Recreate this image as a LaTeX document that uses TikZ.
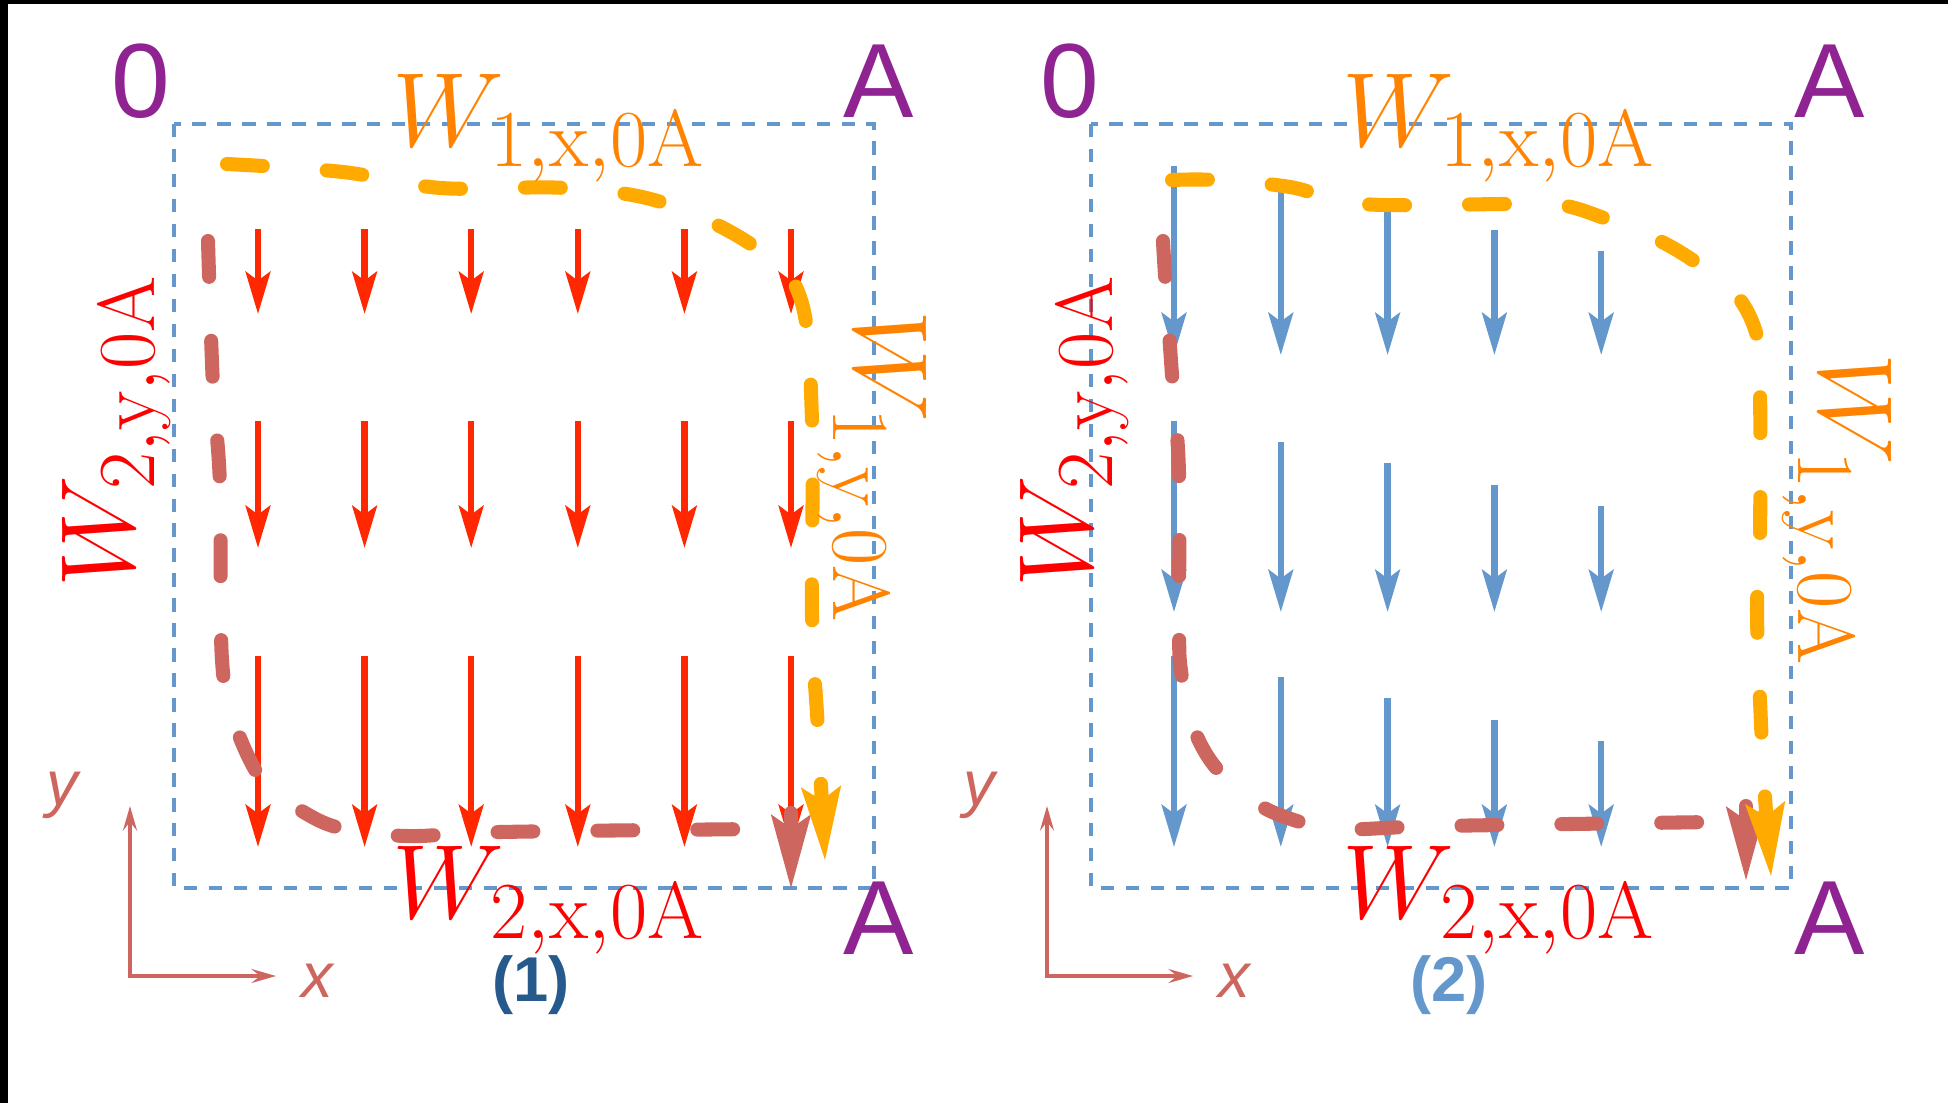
\RequirePackage{fix-cm}
\documentclass[tikz,border=0pt]{standalone}
\usepackage{amsmath}
\usepackage{fontspec}
\setsansfont{Liberation Sans}
\usepackage{xcolor}
\usepackage{tikz}
\usetikzlibrary{arrows.meta}
\DeclareMathSizes{30}{30}{23}{16}
\definecolor{feldrot}{RGB}{255,40,0}
\definecolor{feldblau}{RGB}{100,152,204}
\definecolor{orangeweg}{RGB}{255,170,0}
\definecolor{rotweg}{RGB}{205,102,95}
\definecolor{lila}{RGB}{143,35,145}
\definecolor{textorange}{RGB}{255,130,0}
\definecolor{textrot}{RGB}{255,0,0}
\definecolor{nrdunkel}{RGB}{38,90,140}
\tikzset{
  rahmen/.style={draw=feldblau, line width=1.1pt, dash pattern=on 3.8pt off 3.3pt},
  pfeilrot/.style={feldrot, line width=1.8pt, -{Stealth[length=12pt,width=7pt,inset=2.5pt]}},
  pfeilblau/.style={feldblau, line width=1.8pt, -{Stealth[length=12pt,width=7pt,inset=2.5pt]}},
  kurve/.style={line width=4pt, line cap=round, dash pattern=on 10.2pt off 18.2pt},
  kopf/.style={line width=4pt, line cap=round, -{Stealth[length=21pt,width=11.5pt,inset=4pt,line width=0pt]}},
  ecke/.style={font=\sffamily\fontsize{30}{30}\selectfont, text=lila, inner sep=0pt},
  wtext/.style={font=\fontsize{30}{32}\selectfont, inner sep=0pt, anchor=base west},
  nummer/.style={font=\sffamily\bfseries\fontsize{18}{20}\selectfont, inner sep=0pt},
  achslabel/.style={font=\sffamily\itshape\fontsize{18}{20}\selectfont, text=rotweg, inner sep=0pt},
  achse/.style={rotweg, line width=0.9pt, {Stealth[length=7pt,width=4pt,inset=2.5pt]}-{Stealth[length=7pt,width=4pt,inset=2.5pt]}}
}
% Koordinatenachsen: Praefix, Ursprung x, Ursprung y
\newcommand{\Achsen}[3]{%
  \draw[achse] (#2,#3-170) |- (#2+146,#3);
  \node[achslabel] (#1y) at (#2-68,#3-181) {y};
  \node[achslabel] (#1x) at (#2+187,#3+5) {x};
}

\begin{document}
\begin{tikzpicture}[x=0.01cm,y=-0.01cm]
  \useasboundingbox (0,0) rectangle (1948,1103);
  \fill[black] (0,0) rectangle (1948,4);
  \fill[black] (0,0) rectangle (8,1103);

  % Feld (1): Rahmen und rote Pfeile
  \draw[rahmen] (174,124) rectangle (874,888);
  \foreach \i in {0,...,5} {
    \draw[pfeilrot] (258+106.6*\i,229) -- (258+106.6*\i,314);
    \draw[pfeilrot] (258+106.6*\i,421) -- (258+106.6*\i,548);
    \draw[pfeilrot] (258+106.6*\i,656) -- (258+106.6*\i,847);
  }
  % Weg 2 (links, unten)
  \draw[kurve, rotweg] plot[smooth, tension=0.6] coordinates {(208,241) (213,386) (220,486) (222,660) (236,727) (265,785) (300,810) (340,828) (407,836) (500,832) (760,829)};
  \draw[kopf, rotweg] (791,813) -- (791,888);
  % Weg 1 (oben, rechts)
  \draw[kurve, orangeweg, kopf] plot[smooth, tension=0.6] coordinates {(227,164) (343,172) (441,188) (565,188) (661,202) (752,245) (800,297) (812,420) (812,617) (818,730) (825,860)};

  % Feld (2): Rahmen und blaue Pfeile
  \draw[rahmen] (1091,124) rectangle (1791,888);
  \foreach \i in {0,...,4} {
    \draw[pfeilblau] (1174+106.8*\i,166+21.2*\i) -- (1174+106.8*\i,355);
    \draw[pfeilblau] (1174+106.8*\i,421+21.2*\i) -- (1174+106.8*\i,612);
    \draw[pfeilblau] (1174+106.8*\i,656+21.2*\i) -- (1174+106.8*\i,847);
  }
  \draw[kurve, rotweg] plot[smooth, tension=0.6] coordinates {(1163,241) (1165,275) (1172,375) (1179,473) (1179,624) (1181,671) (1191,721) (1213,764) (1250,799) (1288,818) (1340,829) (1440,826) (1715,822)};
  \draw[kopf, rotweg] (1746,806) -- (1746,880);
  \draw[kurve, orangeweg, kopf] plot[smooth, tension=0.6] coordinates {(1172,180) (1216,180) (1290,187) (1362,204) (1511,204) (1561,205) (1604,218) (1654,238) (1694,261) (1735,293) (1757,336) (1760,386) (1760,536) (1757,610) (1760,700) (1764,782) (1771,876)};

  % Ecken
  \node[ecke] (null1) at (141,81) {0};
  \node[ecke] (aoben1) at (879,81) {A};
  \node[ecke] (aunten1) at (879,918) {A};
  \node[ecke] (null2) at (1070,81) {0};
  \node[ecke] (aoben2) at (1830,81) {A};
  \node[ecke] (aunten2) at (1830,918) {A};

  % Beschriftung der Wege
  \node[wtext, text=textorange] (w1x1) at (392,146) {$W_{\mathrm{1,x,0A}}$};
  \node[wtext, text=textrot] (w2x1) at (392,918) {$W_{\mathrm{2,x,0A}}$};
  \node[wtext, text=textrot, rotate=90] (w2y1) at (134,588) {$W_{\mathrm{2,y,0A}}$};
  \node[wtext, text=textorange, rotate=-90] (w1y1) at (854,310) {$W_{\mathrm{1,y,0A}}$};
  \node[wtext, text=textorange] (w1x2) at (1342,146) {$W_{\mathrm{1,x,0A}}$};
  \node[wtext, text=textrot] (w2x2) at (1342,918) {$W_{\mathrm{2,x,0A}}$};
  \node[wtext, text=textrot, rotate=90] (w2y2) at (1092,588) {$W_{\mathrm{2,y,0A}}$};
  \node[wtext, text=textorange, rotate=-90] (w1y2) at (1819,353) {$W_{\mathrm{1,y,0A}}$};

  % Achsen und Nummern
  \Achsen{a1}{130}{976}
  \Achsen{a2}{1047}{976}
  \node[nummer, text=nrdunkel] (nr1) at (531,985) {(1)};
  \node[nummer, text=feldblau] (nr2) at (1449,985) {(2)};
\end{tikzpicture}
\end{document}
